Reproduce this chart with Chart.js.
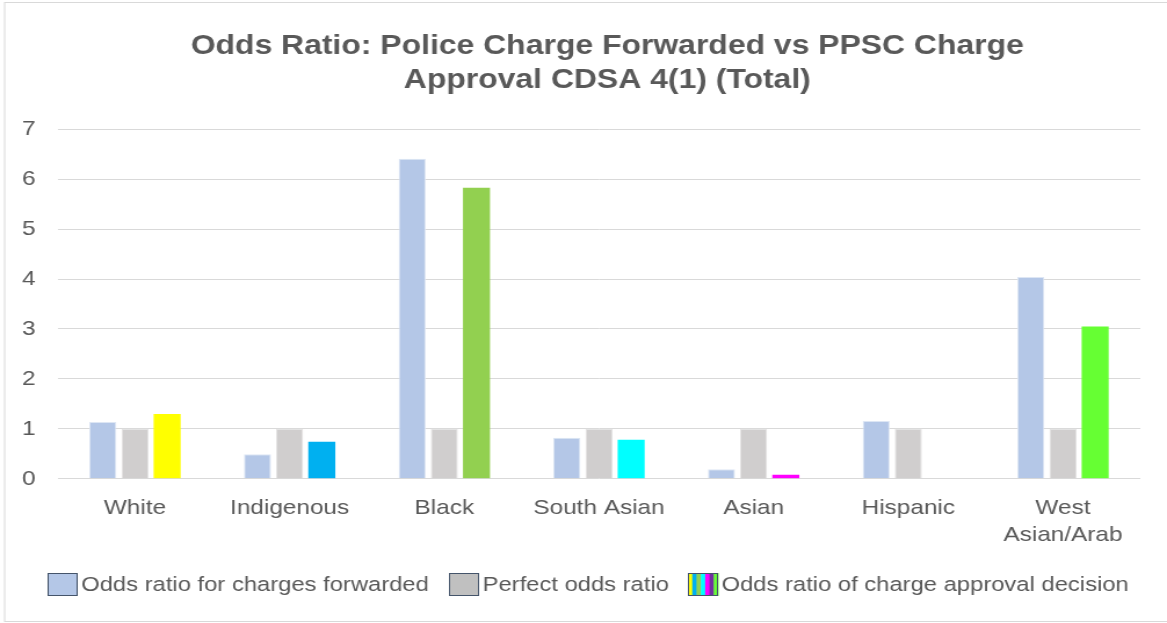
<!DOCTYPE html>
<html>
<head>
<meta charset="utf-8">
<script src="https://cdn.jsdelivr.net/npm/chart.js@4/dist/chart.umd.min.js"></script>
<style>
  html, body { margin: 0; padding: 0; background: #ffffff; overflow: hidden; }
  /* The chart is laid out on a narrower canvas and widened to the full page width */
  #wrap { position: relative; width: 1006px; height: 623px; transform: scaleX(1.16004); transform-origin: 0 0; }
</style>
</head>
<body>
<div id="wrap"><canvas id="chart"></canvas></div>
<script>
// Categories and series values
const categories = ["White", "Indigenous", "Black", "South Asian", "Asian", "Hispanic", ["West", "Asian/Arab"]];
const forwardedOdds = [1.14, 0.49, 6.41, 0.82, 0.19, 1.16, 4.04];
const perfectOdds = [1, 1, 1, 1, 1, 1, 1];
const approvalOdds = [1.30, 0.74, 5.83, 0.78, 0.08, null, 3.05];
const approvalColors = ["#FFFF00", "#00B0F0", "#92D050", "#00FFFF", "#FF00FF", "#7030A0", "#66FF33"];
const seriesNames = ["Odds ratio for charges forwarded", "Perfect odds ratio", "Odds ratio of charge approval decision"];
const yTicks = [0, 1, 2, 3, 4, 5, 6, 7];

const textColor = "#595959";
const gridColor = "#D9D9D9";
const fontFamily = "'Liberation Sans', Arial, sans-serif";

// Outer frame around the whole chart
const framePlugin = {
  id: "frame",
  beforeDraw(chart) {
    const ctx = chart.ctx;
    ctx.save();
    ctx.fillStyle = "#ffffff";
    ctx.fillRect(0, 0, chart.width, chart.height);
    ctx.strokeStyle = gridColor;
    ctx.lineWidth = 1;
    ctx.strokeRect(4, 2.5, chart.width, chart.height - 4);
    ctx.restore();
  }
};

// Nudge the title block so the heading sits slightly right of centre
const titleShift = {
  id: "titleShift",
  afterLayout(chart) {
    const t = chart.titleBlock;
    if (t) { t.left += 32; t.right += 32; }
  }
};

// Compact legend row under the axis: swatch, then the series name right beside it
const legendRow = {
  id: "legendRow",
  afterDraw(chart, args, opts) {
    const ctx = chart.ctx;
    const items = chart.data.datasets.map(ds => ds.label);
    const boxW = 26, boxH = 23, gap = 3, spacing = 17;
    const font = "20.5px " + fontFamily;
    ctx.save();
    ctx.font = font;
    const widths = items.map(t => ctx.measureText(t).width);
    const total = widths.reduce((a, w) => a + boxW + gap + w, 0) + spacing * (items.length - 1);
    let x = opts.centerX - total / 2;
    const cy = opts.centerY;
    const swatchFills = ["#B4C7E7", "#C0C0C0", null];
    items.forEach((text, i) => {
      const bx = Math.round(x), by = Math.round(cy - boxH / 2);
      if (swatchFills[i]) {
        ctx.fillStyle = swatchFills[i];
        ctx.fillRect(bx, by, boxW, boxH);
      } else {
        const sw = boxW / approvalColors.length;
        approvalColors.forEach((c, k) => {
          ctx.fillStyle = c;
          ctx.fillRect(bx + k * sw, by, sw + 0.5, boxH);
        });
      }
      ctx.strokeStyle = "#44546A";
      ctx.lineWidth = 1;
      ctx.strokeRect(bx + 0.5, by + 0.5, boxW - 1, boxH - 1);
      ctx.fillStyle = textColor;
      ctx.textBaseline = "middle";
      ctx.textAlign = "left";
      ctx.fillText(text, bx + boxW + gap, cy + 1);
      x += boxW + gap + widths[i] + spacing;
    });
    ctx.restore();
  }
};

const ctx = document.getElementById("chart").getContext("2d");
new Chart(ctx, {
  type: "bar",
  data: {
    labels: categories,
    datasets: [
      {
        label: seriesNames[0],
        data: forwardedOdds,
        backgroundColor: "#B4C7E7",
        borderColor: "#DDE6F4",
        borderWidth: 1
      },
      {
        label: seriesNames[1],
        data: perfectOdds,
        backgroundColor: "#D0CECE",
        borderColor: "#E4E3E3",
        borderWidth: 1
      },
      {
        label: seriesNames[2],
        data: approvalOdds,
        backgroundColor: approvalColors,
        borderWidth: 0
      }
    ]
  },
  options: {
    responsive: true,
    maintainAspectRatio: false,
    animation: false,
    datasets: {
      bar: { categoryPercentage: 0.624, barPercentage: 0.84 }
    },
    layout: { padding: { left: 0, right: 23, top: 29, bottom: 66 } },
    plugins: {
      title: {
        display: true,
        text: ["Odds Ratio: Police Charge Forwarded vs PPSC Charge", "Approval CDSA 4(1) (Total)"],
        color: textColor,
        font: { family: fontFamily, size: 27.5, weight: "bold", lineHeight: 1.24 },
        padding: { top: 0, bottom: 32 }
      },
      legend: { display: false },
      legendRow: { centerX: 507, centerY: 584 },
      tooltip: { enabled: false }
    },
    scales: {
      x: {
        grid: { display: false },
        border: { display: false },
        ticks: {
          color: textColor,
          font: { family: fontFamily, size: 21, lineHeight: 1.29 },
          padding: 8,
          maxRotation: 0,
          autoSkip: false
        }
      },
      y: {
        min: 0,
        max: 7,
        afterBuildTicks(scale) { scale.ticks = yTicks.map(v => ({ value: v })); },
        grid: { color: gridColor, lineWidth: 1, drawTicks: false },
        border: { display: false },
        ticks: {
          color: textColor,
          font: { family: fontFamily, size: 21 },
          padding: 19
        }
      }
    }
  },
  plugins: [framePlugin, titleShift, legendRow]
});
</script>
</body>
</html>
